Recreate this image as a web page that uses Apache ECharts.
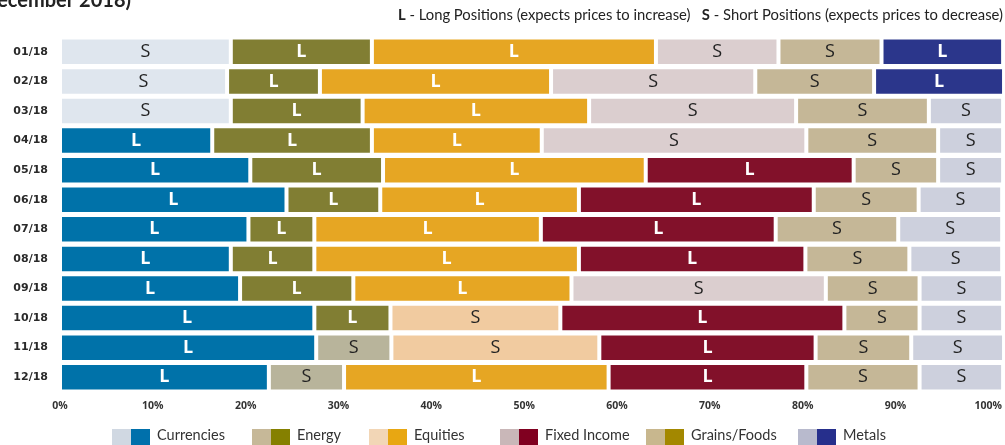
<!DOCTYPE html>
<html>
<head>
<meta charset="utf-8">
<title>Positions 2018</title>
<script src="https://cdn.jsdelivr.net/npm/echarts/dist/echarts.min.js"></script>
<style>
  html, body { margin: 0; padding: 0; background: #fff; }
  #chart { width: 1005px; height: 445px; }
</style>
</head>
<body>
<div id="chart"></div>
<script>
// months, top to bottom
const months = ['01/18', '02/18', '03/18', '04/18', '05/18', '06/18', '07/18', '08/18', '09/18', '10/18', '11/18', '12/18']
const categories = ['Currencies', 'Energy', 'Equities', 'Fixed Income', 'Grains/Foods', 'Metals']

// share of each bar (read against the % axis) and L/S position
const currencies = [18.4, 18.0, 18.4, 16.4, 20.5, 24.4, 20.3, 18.4, 19.4, 27.4, 27.6, 22.5]
const currenciesPos = ['S', 'S', 'S', 'L', 'L', 'L', 'L', 'L', 'L', 'L', 'L', 'L']
const energy = [15.2, 10.0, 14.2, 17.2, 14.3, 10.1, 7.1, 9.0, 12.2, 8.2, 8.1, 8.1]
const energyPos = ['L', 'L', 'L', 'L', 'L', 'L', 'L', 'L', 'L', 'L', 'S', 'S']
const equities = [30.6, 24.9, 24.4, 18.3, 28.3, 21.4, 24.4, 28.5, 23.5, 18.3, 22.4, 28.5]
const equitiesPos = ['L', 'L', 'L', 'L', 'L', 'L', 'L', 'L', 'L', 'S', 'S', 'L']
const fixedIncome = [13.2, 22.0, 22.3, 28.5, 22.4, 25.3, 25.3, 24.4, 27.4, 30.6, 23.3, 21.3]
const fixedIncomePos = ['S', 'S', 'S', 'S', 'L', 'L', 'L', 'L', 'S', 'L', 'L', 'L']
const grains = [11.1, 12.8, 14.3, 14.2, 9.1, 11.3, 13.2, 11.2, 10.1, 8.1, 10.3, 12.2]
const grainsPos = ['S', 'S', 'S', 'S', 'S', 'S', 'S', 'S', 'S', 'S', 'S', 'S']
const metals = [13.1, 14.0, 8.0, 7.0, 7.0, 9.0, 11.2, 10.0, 9.0, 9.0, 10.0, 9.0]
const metalsPos = ['L', 'L', 'S', 'S', 'S', 'S', 'S', 'S', 'S', 'S', 'S', 'S']

const values = [currencies, energy, equities, fixedIncome, grains, metals]
const positions = [currenciesPos, energyPos, equitiesPos, fixedIncomePos, grainsPos, metalsPos]

// bar colours: [short, long]
const barColors = [
  ['#dfe6ee', '#0072a9'],
  ['#b8b49b', '#817e33'],
  ['#f1cba0', '#e6a623'],
  ['#dbcecf', '#82112a'],
  ['#c5b797', '#a08a00'],
  ['#cdd0dd', '#2b368b']
]
// legend swatches
const legendColors = [
  ['#d0d8e2', '#0070ab'],
  ['#c6b898', '#858000'],
  ['#f2d6b6', '#e8a712'],
  ['#c9b7b8', '#800020'],
  ['#c8b78e', '#a38800'],
  ['#b8bacd', '#262f8c']
]
const legendX = [112, 252, 369, 500, 646, 798]

const FONT = 'Lato'

function buildData(vals, pos, ci) {
  return vals.map((v, i) => {
    const isLong = pos[i] === 'L'
    return {
      value: v,
      itemStyle: { color: barColors[ci][isLong ? 1 : 0] },
      label: {
        formatter: pos[i],
        color: isLong ? '#ffffff' : '#222222',
        fontWeight: isLong ? 'bold' : 500
      }
    }
  })
}

const series = categories.map((name, ci) => ({
  name,
  type: 'bar',
  stack: 'total',
  barWidth: 28.5,
  clip: false,
  itemStyle: { borderColor: '#ffffff', borderWidth: 2 },
  label: {
    show: true,
    position: 'inside',
    fontFamily: 'Open Sans',
    fontSize: 18
  },
  data: buildData(values[ci], positions[ci], ci)
}))

const legendGraphics = []
categories.forEach((name, i) => {
  const x = legendX[i]
  legendGraphics.push(
    { type: 'rect', left: x, top: 429, shape: { width: 19, height: 16 }, style: { fill: legendColors[i][0] } },
    { type: 'rect', left: x + 19, top: 429, shape: { width: 19, height: 16 }, style: { fill: legendColors[i][1] } },
    { type: 'text', left: x + 45, top: 428, style: { text: name, font: '14.5px ' + FONT, fill: '#333' } }
  )
})

const option = {
  animation: false,
  grid: { left: 60, right: 0, top: 37, height: 355 },
  xAxis: {
    type: 'value',
    min: 0,
    max: 101.6,
    interval: 10,
    axisLine: { show: false },
    axisTick: { show: false },
    splitLine: { show: false },
    axisLabel: {
      showMaxLabel: false,
      formatter: '{value}%',
      margin: 9,
      color: '#333',
      fontFamily: 'Open Sans',
      fontWeight: 'bold',
      fontSize: 10.5
    }
  },
  yAxis: {
    type: 'category',
    inverse: true,
    data: months,
    axisLine: { show: false },
    axisTick: { show: false },
    axisLabel: {
      margin: 12,
      color: '#2a2a2a',
      fontFamily: 'DejaVu Sans',
      fontWeight: 'bold',
      fontSize: 11
    }
  },
  series,
  graphic: [
    {
      type: 'text',
      right: 874,
      top: -9,
      style: { text: 'December 2018)', font: 'bold 20px ' + FONT, fill: '#222' }
    },
    {
      type: 'text',
      right: 2,
      top: 8,
      style: {
        text: '{b|L} - Long Positions (expects prices to increase)   {b|S} - Short Positions (expects prices to decrease)',
        font: '14.8px ' + FONT,
        fill: '#222',
        rich: { b: { fontWeight: 'bold', fontFamily: FONT, fontSize: 14.8, fill: '#222' } }
      }
    },
    ...legendGraphics
  ]
}

const chart = echarts.init(document.getElementById('chart'))
chart.setOption(option)
</script>
</body>
</html>
